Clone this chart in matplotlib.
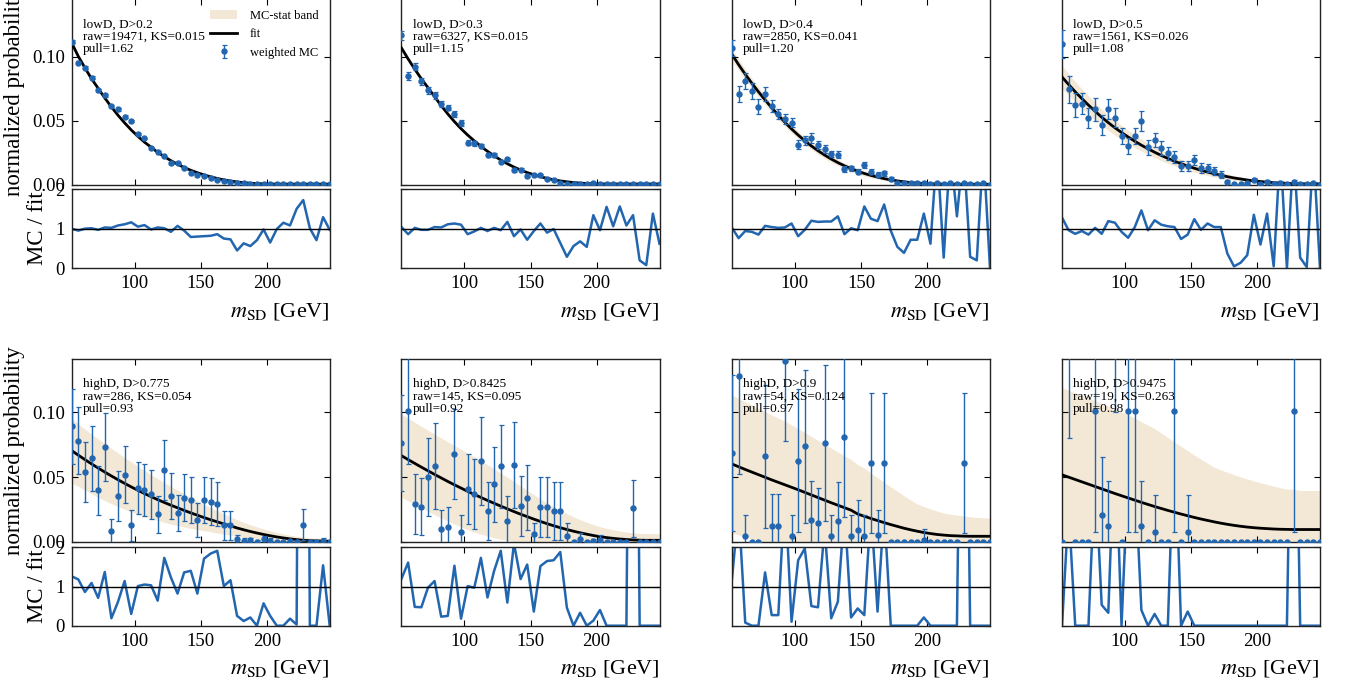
import numpy as np
import matplotlib
matplotlib.use("Agg")
import matplotlib.pyplot as plt
from matplotlib.ticker import MultipleLocator, FormatStrFormatter
from matplotlib.patches import Patch
from matplotlib.lines import Line2D

plt.rcParams['font.family'] = ['Liberation Serif', 'DejaVu Serif']
plt.rcParams['mathtext.fontset'] = 'stix'

# bin centres of the soft-drop mass [GeV]
msd = np.arange(52.5, 250, 5.0)

labels = ["lowD, D>0.2", "lowD, D>0.3", "lowD, D>0.4", "lowD, D>0.5",
          "highD, D>0.775", "highD, D>0.8425", "highD, D>0.9", "highD, D>0.9475"]
raw = [19471, 6327, 2850, 1561, 286, 145, 54, 19]
ks = [0.015, 0.015, 0.041, 0.026, 0.054, 0.095, 0.124, 0.263]
pull = [1.62, 1.15, 1.20, 1.08, 0.93, 0.92, 0.97, 0.98]

# weighted MC
mc1 = [0.112, 0.0956, 0.0917, 0.0839, 0.074, 0.070, 0.0618, 0.059, 0.0535, 0.050,
       0.0397, 0.0364, 0.0291, 0.026, 0.0223, 0.0171, 0.0169, 0.013, 0.0091, 0.008,
       0.0068, 0.0055, 0.0042, 0.0029, 0.0021, 0.0013, 0.0013, 0.001, 0.0008, 0.0007,
       0.0006, 0.0006, 0.0006, 0.0006, 0.0005, 0.0006, 0.0005, 0.0005, 0.0006, 0.0005]
mc2 = [0.117, 0.085, 0.0925, 0.081, 0.074, 0.070, 0.0636, 0.0605, 0.0553, 0.0483,
       0.0332, 0.0325, 0.0306, 0.0236, 0.0236, 0.0182, 0.020, 0.0117, 0.012, 0.0073,
       0.008, 0.0078, 0.0047, 0.0042, 0.0016, 0.001, 0.001, 0.001, 0.0008, 0.0013,
       0.0008, 0.0008, 0.0008, 0.0008, 0.0008, 0.0008, 0.0008, 0.0008, 0.0008, 0.0008]
mc3 = [0.107, 0.071, 0.0813, 0.0735, 0.0613, 0.071, 0.0618, 0.0553, 0.0514, 0.0488,
       0.0314, 0.035, 0.0371, 0.0314, 0.028, 0.0242, 0.0236, 0.0125, 0.013, 0.0104,
       0.0156, 0.0104, 0.008, 0.0091, 0.0047, 0.0018, 0.0016, 0.0016, 0.0016, 0.0018,
       0.0008, 0.0018, 0.0005, 0.0018, 0.0008, 0.0016, 0.0005, 0.0005, 0.0016, 0.0]
mc4 = [0.110, 0.0748, 0.0626, 0.0636, 0.0527, 0.0592, 0.047, 0.0592, 0.0527, 0.0384,
       0.0306, 0.0384, 0.0501, 0.0293, 0.035, 0.0288, 0.0247, 0.0216, 0.0145, 0.015,
       0.0195, 0.0132, 0.0132, 0.0106, 0.008, 0.0026, 0.0005, 0.0005, 0.0013, 0.0039,
       0.0008, 0.0023, 0.0005, 0.0018, 0.0005, 0.0026, 0.0005, 0.0005, 0.0016, 0.0]
mc5 = [0.0889, 0.078, 0.054, 0.0646, 0.0398, 0.0729, 0.0085, 0.0354, 0.0517, 0.0127,
       0.0413, 0.040, 0.0367, 0.0212, 0.0553, 0.0354, 0.0225, 0.0341, 0.0323, 0.0168,
       0.0323, 0.031, 0.0295, 0.0129, 0.0129, 0.0023, 0.001, 0.0013, 0.0003, 0.0026,
       0.001, 0.0, 0.0, 0.0005, 0.0003, 0.0132, 0.0, 0.0003, 0.0008, 0.0]
mc6 = [0.076, 0.101, 0.029, 0.0271, 0.050, 0.0587, 0.010, 0.0116, 0.0677, 0.0078,
       0.0406, 0.0372, 0.0625, 0.0238, 0.0444, 0.0581, 0.0165, 0.0592, 0.0276, 0.0341,
       0.0065, 0.0269, 0.0269, 0.0238, 0.0238, 0.0044, 0.0, 0.0026, 0.0, 0.0005,
       0.0013, 0.0, 0.0, 0.0, 0.0, 0.0258, 0.0, 0.0, 0.0, 0.0]
mc7 = [0.0685, 0.1276, 0.0044, 0.0, 0.0, 0.0659, 0.0121, 0.0121, 0.1395, 0.0044,
       0.0625, 0.0736, 0.0168, 0.0147, 0.0762, 0.0044, 0.016, 0.0811, 0.0044, 0.0096,
       0.0044, 0.0607, 0.0057, 0.0607, 0.0, 0.0, 0.0, 0.0, 0.0, 0.0013,
       0.0, 0.0, 0.0, 0.0, 0.0, 0.0607, 0.0, 0.0, 0.0, 0.0]
mc8 = [0.0, 0.158, 0.0, 0.0, 0.0, 0.101, 0.0204, 0.0121, 0.2, 0.0,
       0.101, 0.101, 0.0121, 0.0, 0.0078, 0.0, 0.0, 0.101, 0.0, 0.0078,
       0.0, 0.0, 0.0, 0.0, 0.0, 0.0, 0.0, 0.0, 0.0, 0.0,
       0.0, 0.0, 0.0, 0.0, 0.0, 0.101, 0.0, 0.0, 0.0, 0.0]

# MC stat errors
err1 = [0.0012, 0.0011, 0.0011, 0.0010, 0.0010, 0.0009, 0.0009, 0.0009, 0.0008, 0.0008,
        0.0007, 0.0007, 0.0006, 0.0006, 0.0006, 0.0005, 0.0005, 0.0004, 0.0004, 0.0004,
        0.0003, 0.0003, 0.0003, 0.0003, 0.0002, 0.0002, 0.0002, 0.0002, 0.0002, 0.0002,
        0.0001, 0.0001, 0.0001, 0.0001, 0.0001, 0.0001, 0.0001, 0.0001, 0.0001, 0.0001]
err2 = [0.0035, 0.0030, 0.0028, 0.0027, 0.0026, 0.0025, 0.0024, 0.0023, 0.0022, 0.0021,
        0.0019, 0.0018, 0.0017, 0.0016, 0.0015, 0.0014, 0.0013, 0.0012, 0.0011, 0.0010,
        0.0009, 0.0009, 0.0008, 0.0007, 0.0006, 0.0005, 0.0005, 0.0004, 0.0004, 0.0004,
        0.0003, 0.0003, 0.0003, 0.0003, 0.0003, 0.0003, 0.0003, 0.0003, 0.0003, 0.0003]
err3 = [0.006, 0.0065, 0.0065, 0.0065, 0.0057, 0.0052, 0.0047, 0.0039, 0.0039, 0.0036,
        0.0034, 0.0034, 0.0039, 0.0031, 0.0031, 0.0026, 0.0026, 0.0021, 0.0021, 0.0018,
        0.0021, 0.0018, 0.0018, 0.0018, 0.0013, 0.0008, 0.0008, 0.0008, 0.0008, 0.0008,
        0.0004, 0.0008, 0.0004, 0.0008, 0.0004, 0.0008, 0.0004, 0.0004, 0.0008, 0.0]
err4 = [0.011, 0.0104, 0.0091, 0.0083, 0.0078, 0.0091, 0.0078, 0.0078, 0.0073, 0.0065,
        0.0065, 0.0065, 0.0078, 0.0057, 0.0057, 0.0052, 0.0052, 0.0047, 0.0039, 0.0039,
        0.0039, 0.0036, 0.0034, 0.0031, 0.0029, 0.0016, 0.0004, 0.0004, 0.0008, 0.0018,
        0.0004, 0.0013, 0.0004, 0.0010, 0.0004, 0.0013, 0.0004, 0.0004, 0.0010, 0.0]
err5 = [0.029, 0.026, 0.023, 0.025, 0.019, 0.026, 0.009, 0.019, 0.022, 0.012,
        0.020, 0.020, 0.019, 0.014, 0.023, 0.018, 0.014, 0.018, 0.018, 0.013,
        0.018, 0.018, 0.017, 0.011, 0.011, 0.003, 0.002, 0.002, 0.001, 0.002,
        0.002, 0.0, 0.0, 0.001, 0.001, 0.012, 0.0, 0.001, 0.002, 0.0]
err6 = [0.037, 0.041, 0.023, 0.022, 0.030, 0.033, 0.015, 0.015, 0.035, 0.013,
        0.027, 0.027, 0.034, 0.022, 0.029, 0.032, 0.019, 0.033, 0.023, 0.025,
        0.008, 0.023, 0.023, 0.022, 0.022, 0.010, 0.0, 0.004, 0.0, 0.002,
        0.004, 0.0, 0.0, 0.0, 0.0, 0.022, 0.0, 0.0, 0.0, 0.0]
err7 = [0.060, 0.075, 0.016, 0.0, 0.0, 0.055, 0.025, 0.025, 0.062, 0.016,
        0.055, 0.059, 0.030, 0.027, 0.060, 0.016, 0.030, 0.062, 0.016, 0.023,
        0.016, 0.054, 0.019, 0.054, 0.0, 0.0, 0.0, 0.0, 0.0, 0.009,
        0.0, 0.0, 0.0, 0.0, 0.0, 0.054, 0.0, 0.0, 0.0, 0.0]
err8 = [0.0, 0.078, 0.0, 0.0, 0.0, 0.093, 0.045, 0.035, 0.100, 0.0,
        0.093, 0.093, 0.035, 0.0, 0.028, 0.0, 0.0, 0.093, 0.0, 0.028,
        0.0, 0.0, 0.0, 0.0, 0.0, 0.0, 0.0, 0.0, 0.0, 0.0,
        0.0, 0.0, 0.0, 0.0, 0.0, 0.093, 0.0, 0.0, 0.0, 0.0]

# fitted template
fit1 = [0.111, 0.1005, 0.0915, 0.0830, 0.0755, 0.0680, 0.0610, 0.0545, 0.0485, 0.0430,
        0.0380, 0.0335, 0.0295, 0.0255, 0.0222, 0.0190, 0.0162, 0.0137, 0.0115, 0.0096,
        0.0079, 0.0064, 0.0051, 0.0040, 0.0031, 0.0024, 0.0018, 0.0014, 0.0011, 0.0009,
        0.0008, 0.0007, 0.0007, 0.0007, 0.0007, 0.0007, 0.0007, 0.0007, 0.0007, 0.0007]
fit2 = [0.107, 0.0985, 0.0905, 0.0830, 0.0760, 0.0690, 0.0620, 0.0555, 0.0495, 0.0440,
        0.0390, 0.0345, 0.0302, 0.0263, 0.0228, 0.0195, 0.0166, 0.0140, 0.0117, 0.0097,
        0.0080, 0.0065, 0.0052, 0.0041, 0.0032, 0.0025, 0.0019, 0.0015, 0.0012, 0.0010,
        0.0009, 0.0008, 0.0008, 0.0008, 0.0008, 0.0008, 0.0008, 0.0008, 0.0008, 0.0008]
fit3 = [0.102, 0.0940, 0.0865, 0.0795, 0.0728, 0.0665, 0.0603, 0.0545, 0.0490, 0.0438,
        0.0390, 0.0346, 0.0305, 0.0268, 0.0234, 0.0203, 0.0175, 0.0150, 0.0128, 0.0108,
        0.0090, 0.0075, 0.0062, 0.0050, 0.0040, 0.0032, 0.0025, 0.0019, 0.0015, 0.0012,
        0.0010, 0.0008, 0.0007, 0.0006, 0.0006, 0.0006, 0.0006, 0.0006, 0.0006, 0.0006]
fit4 = [0.0844, 0.0785, 0.0728, 0.0675, 0.0624, 0.0576, 0.0530, 0.0487, 0.0447, 0.0410,
        0.0375, 0.0342, 0.0311, 0.0283, 0.0256, 0.0231, 0.0208, 0.0186, 0.0166, 0.0148,
        0.0131, 0.0115, 0.0101, 0.0088, 0.0076, 0.0065, 0.0055, 0.0047, 0.0039, 0.0032,
        0.0027, 0.0022, 0.0018, 0.0015, 0.0013, 0.0011, 0.0010, 0.0009, 0.0009, 0.0009]
fit5 = [0.0703, 0.0668, 0.0634, 0.0601, 0.0569, 0.0538, 0.0508, 0.0479, 0.0451, 0.0424,
        0.0398, 0.0373, 0.0349, 0.0326, 0.0304, 0.0283, 0.0263, 0.0243, 0.0224, 0.0206,
        0.0188, 0.0171, 0.0155, 0.0139, 0.0124, 0.0108, 0.0094, 0.0081, 0.0069, 0.0058,
        0.0048, 0.0039, 0.0031, 0.0024, 0.0018, 0.0013, 0.0010, 0.0008, 0.0007, 0.0006]
fit6 = [0.0664, 0.0634, 0.0605, 0.0576, 0.0548, 0.0520, 0.0493, 0.0466, 0.0440, 0.0415,
        0.0390, 0.0366, 0.0343, 0.0320, 0.0298, 0.0276, 0.0255, 0.0234, 0.0214, 0.0195,
        0.0176, 0.0158, 0.0141, 0.0125, 0.0110, 0.0096, 0.0083, 0.0071, 0.0060, 0.0050,
        0.0041, 0.0034, 0.0028, 0.0023, 0.0019, 0.0016, 0.0014, 0.0013, 0.0013, 0.0013]
fit7 = [0.0600, 0.0579, 0.0558, 0.0538, 0.0518, 0.0498, 0.0478, 0.0459, 0.0440, 0.0421,
        0.0402, 0.0382, 0.0362, 0.0342, 0.0322, 0.0302, 0.0283, 0.0264, 0.0245, 0.0215,
        0.0198, 0.0181, 0.0165, 0.0149, 0.0134, 0.0120, 0.0106, 0.0094, 0.0083, 0.0073,
        0.0065, 0.0058, 0.0053, 0.0049, 0.0047, 0.0045, 0.0044, 0.0044, 0.0044, 0.0044]
fit8 = [0.0517, 0.0499, 0.0481, 0.0463, 0.0445, 0.0427, 0.0409, 0.0391, 0.0373, 0.0356,
        0.0339, 0.0322, 0.0305, 0.0289, 0.0273, 0.0258, 0.0243, 0.0229, 0.0215, 0.0202,
        0.0189, 0.0177, 0.0166, 0.0155, 0.0145, 0.0136, 0.0128, 0.0121, 0.0115, 0.0110,
        0.0106, 0.0103, 0.0100, 0.0098, 0.0097, 0.0096, 0.0096, 0.0096, 0.0096, 0.0096]

# half width of the MC-stat band around the fit
band1 = [0.0010, 0.0009, 0.0009, 0.0008, 0.0008, 0.0007, 0.0007, 0.0006, 0.0006, 0.0006,
         0.0005, 0.0005, 0.0005, 0.0004, 0.0004, 0.0004, 0.0003, 0.0003, 0.0003, 0.0003,
         0.0002, 0.0002, 0.0002, 0.0002, 0.0002, 0.0002, 0.0002, 0.0002, 0.0002, 0.0002,
         0.0002, 0.0002, 0.0002, 0.0002, 0.0002, 0.0002, 0.0002, 0.0002, 0.0002, 0.0002]
band2 = [0.0018, 0.0017, 0.0017, 0.0016, 0.0016, 0.0015, 0.0015, 0.0014, 0.0014, 0.0013,
         0.0013, 0.0012, 0.0012, 0.0011, 0.0011, 0.0010, 0.0010, 0.0009, 0.0009, 0.0008,
         0.0008, 0.0007, 0.0007, 0.0006, 0.0006, 0.0005, 0.0005, 0.0004, 0.0004, 0.0004,
         0.0003, 0.0003, 0.0003, 0.0003, 0.0003, 0.0003, 0.0003, 0.0003, 0.0003, 0.0003]
band3 = [0.0045, 0.0043, 0.0041, 0.0039, 0.0037, 0.0036, 0.0034, 0.0033, 0.0032, 0.0031,
         0.0030, 0.0029, 0.0028, 0.0027, 0.0026, 0.0025, 0.0024, 0.0023, 0.0022, 0.0021,
         0.0020, 0.0019, 0.0017, 0.0016, 0.0014, 0.0013, 0.0011, 0.0010, 0.0009, 0.0008,
         0.0007, 0.0006, 0.0006, 0.0005, 0.0005, 0.0005, 0.0005, 0.0005, 0.0005, 0.0005]
band4 = [0.0090, 0.0085, 0.0080, 0.0076, 0.0072, 0.0068, 0.0064, 0.0061, 0.0058, 0.0055,
         0.0052, 0.0050, 0.0047, 0.0045, 0.0043, 0.0041, 0.0039, 0.0037, 0.0035, 0.0033,
         0.0031, 0.0029, 0.0027, 0.0025, 0.0023, 0.0021, 0.0019, 0.0017, 0.0015, 0.0013,
         0.0012, 0.0011, 0.0010, 0.0009, 0.0009, 0.0008, 0.0008, 0.0008, 0.0008, 0.0008]
band5 = [0.025, 0.024, 0.0235, 0.023, 0.0225, 0.022, 0.0213, 0.0206, 0.0199, 0.0192,
         0.0185, 0.0177, 0.0169, 0.0161, 0.0153, 0.0145, 0.0137, 0.0128, 0.0119, 0.0110,
         0.0101, 0.0093, 0.0085, 0.0078, 0.0071, 0.0064, 0.0058, 0.0052, 0.0047, 0.0042,
         0.0038, 0.0034, 0.0031, 0.0028, 0.0026, 0.0024, 0.0022, 0.0021, 0.0020, 0.0020]
band6 = [0.032, 0.0318, 0.0316, 0.0314, 0.0312, 0.031, 0.0308, 0.0305, 0.0302, 0.0299,
         0.0295, 0.029, 0.0283, 0.0275, 0.0265, 0.0255, 0.0243, 0.0230, 0.0216, 0.0202,
         0.0188, 0.0174, 0.0160, 0.0147, 0.0134, 0.0122, 0.0111, 0.0101, 0.0092, 0.0084,
         0.0077, 0.0071, 0.0066, 0.0062, 0.0058, 0.0055, 0.0053, 0.0052, 0.0051, 0.0050]
band7 = [0.053, 0.0525, 0.052, 0.0515, 0.051, 0.0505, 0.050, 0.0495, 0.049, 0.048,
         0.047, 0.046, 0.045, 0.044, 0.043, 0.042, 0.041, 0.040, 0.039, 0.038,
         0.037, 0.035, 0.033, 0.031, 0.029, 0.027, 0.025, 0.023, 0.021, 0.020,
         0.019, 0.018, 0.017, 0.0165, 0.016, 0.0155, 0.015, 0.0145, 0.0142, 0.014]
band8 = [0.067, 0.0668, 0.0666, 0.0664, 0.0662, 0.066, 0.0657, 0.0654, 0.065, 0.0645,
         0.064, 0.063, 0.062, 0.061, 0.060, 0.058, 0.056, 0.054, 0.052, 0.050,
         0.048, 0.046, 0.044, 0.042, 0.041, 0.040, 0.039, 0.038, 0.037, 0.036,
         0.035, 0.034, 0.033, 0.032, 0.031, 0.031, 0.030, 0.030, 0.030, 0.030]

# MC / fit
ratio1 = [1.0, 0.95, 1.0, 1.01, 0.97, 1.03, 1.02, 1.08, 1.11, 1.16,
          1.05, 1.09, 0.98, 1.03, 1.01, 0.92, 1.07, 0.95, 0.79, 0.80,
          0.81, 0.82, 0.86, 0.75, 0.73, 0.45, 0.63, 0.56, 0.71, 0.98,
          0.65, 0.99, 1.15, 1.08, 1.5, 1.72, 1.01, 0.71, 1.29, 0.97]
ratio2 = [1.04, 0.86, 1.02, 0.97, 0.97, 1.04, 1.03, 1.11, 1.13, 1.10,
          0.86, 0.93, 1.02, 0.94, 1.02, 0.96, 1.17, 0.81, 0.98, 0.72,
          0.94, 1.13, 0.90, 0.99, 0.64, 0.29, 0.56, 0.68, 0.54, 1.34,
          0.96, 1.55, 1.06, 1.56, 1.08, 1.34, 0.20, 0.08, 1.38, 0.62]
ratio3 = [1.02, 0.76, 0.94, 0.92, 0.85, 1.07, 1.04, 1.02, 1.03, 1.13,
          0.81, 0.97, 1.20, 1.17, 1.18, 1.18, 1.31, 0.86, 1.01, 0.96,
          1.56, 1.25, 1.19, 1.61, 0.95, 0.54, 0.39, 0.72, 0.72, 1.38,
          0.62, 3.0, 0.27, 3.0, 1.31, 3.0, 0.29, 0.20, 3.0, 0.0]
ratio4 = [1.28, 0.96, 0.87, 0.94, 0.85, 1.02, 0.87, 1.19, 1.15, 0.92,
          0.77, 1.04, 1.46, 0.96, 1.21, 1.10, 1.06, 1.04, 0.74, 0.85,
          1.24, 0.97, 1.13, 1.04, 1.04, 0.37, 0.05, 0.14, 0.33, 1.35,
          0.60, 1.38, 0.05, 3.0, 0.0, 3.0, 0.27, 0.03, 3.0, 0.0]
ratio5 = [1.26, 1.18, 0.86, 1.09, 0.71, 1.37, 0.19, 0.61, 1.14, 0.30,
          1.01, 1.05, 1.03, 0.64, 1.73, 1.23, 0.82, 1.36, 1.40, 0.82,
          1.71, 1.84, 1.91, 1.01, 1.16, 0.25, 0.12, 0.21, 0.0, 0.57,
          0.25, 0.0, 0.0, 0.18, 0.03, 30.0, 0.0, 0.0, 1.54, 0.0]
ratio6 = [1.20, 1.61, 0.48, 0.47, 0.97, 1.14, 0.23, 0.25, 1.53, 0.18,
          1.01, 0.97, 1.73, 0.72, 1.40, 1.91, 0.59, 2.1, 1.19, 1.56,
          0.36, 1.52, 1.65, 1.67, 1.88, 0.46, 0.0, 0.33, 0.0, 0.13,
          0.40, 0.0, 0.0, 0.0, 0.0, 20.0, 0.0, 0.0, 0.0, 0.0]
ratio7 = [1.20, 3.0, 0.08, 0.0, 0.0, 1.36, 0.27, 0.27, 3.5, 0.10,
          1.67, 1.97, 0.50, 0.47, 2.5, 0.19, 0.61, 3.0, 0.21, 0.44,
          0.27, 3.0, 0.36, 3.0, 0.0, 0.0, 0.0, 0.0, 0.0, 0.21,
          0.0, 0.0, 0.0, 0.0, 0.0, 13.0, 0.0, 0.0, 0.0, 0.0]
ratio8 = [0.0, 3.0, 0.0, 0.0, 0.0, 4.0, 0.53, 0.33, 5.0, 0.0,
          4.0, 4.0, 0.40, 0.0, 0.30, 0.0, 0.0, 5.0, 0.0, 0.36,
          0.0, 0.0, 0.0, 0.0, 0.0, 0.0, 0.0, 0.0, 0.0, 0.0,
          0.0, 0.0, 0.0, 0.0, 0.0, 10.0, 0.0, 0.0, 0.0, 0.0]

mcs = [mc1, mc2, mc3, mc4, mc5, mc6, mc7, mc8]
errs = [err1, err2, err3, err4, err5, err6, err7, err8]
fits = [fit1, fit2, fit3, fit4, fit5, fit6, fit7, fit8]
bands = [band1, band2, band3, band4, band5, band6, band7, band8]
ratios = [ratio1, ratio2, ratio3, ratio4, ratio5, ratio6, ratio7, ratio8]

blue = '#2366b0'
band_color = '#f3e8d5'

W, H = 1351, 683
fig = plt.figure(figsize=(W / 100, H / 100), dpi=100)

col_left = [71.7, 401.5, 732, 1062]
ax_w = 258
# (main top, main bottom, ratio top, ratio bottom) in pixels, and y max
rows = [(-1, 185, 189, 268.3, 0.1453), (359, 542, 547.3, 625.7, 0.1408)]


def px_axes(x0, y0, y1):
    return fig.add_axes([x0 / W, 1 - y1 / H, ax_w / W, (y1 - y0) / H])


def style(ax):
    ax.tick_params(direction='in', top=True, right=True, length=4, width=0.8,
                   labelsize=13.5, pad=5)
    for s in ax.spines.values():
        s.set_linewidth(1.0)
        s.set_color('#222222')


for i in range(8):
    r, c = divmod(i, 4)
    mt, mb, rt, rb, ymax = rows[r]
    ax = px_axes(col_left[c], mt, mb)
    axr = px_axes(col_left[c], rt, rb)

    mc = np.array(mcs[i])
    err = np.array(errs[i])
    fit = np.array(fits[i])
    band = np.array(bands[i])

    ax.fill_between(msd, fit - band, fit + band, color=band_color, lw=0, zorder=1)
    ax.plot(msd, fit, color='black', lw=2.0, zorder=3)
    ax.errorbar(msd, mc, yerr=err, fmt='o', color=blue, ms=3.6, ecolor=blue,
                elinewidth=1.0, capsize=1.8, capthick=0.9, zorder=4)
    ax.set_xlim(52.5, 247.5)
    ax.set_ylim(0, ymax)
    ax.xaxis.set_major_locator(MultipleLocator(50))
    ax.yaxis.set_major_locator(MultipleLocator(0.05))
    ax.yaxis.set_major_formatter(FormatStrFormatter('%.2f'))
    ax.tick_params(labelbottom=False)
    style(ax)

    ax.text(0.043, 0.895, "%s\nraw=%d, KS=%.3f\npull=%.2f" % (labels[i], raw[i], ks[i], pull[i]),
            transform=ax.transAxes, ha='left', va='top', fontsize=9.5, linespacing=1.05, zorder=5)

    axr.plot(msd, ratios[i], color=blue, lw=1.8)
    axr.axhline(1.0, color='black', lw=1.0)
    axr.set_xlim(52.5, 247.5)
    axr.set_ylim(0, 2)
    axr.xaxis.set_major_locator(MultipleLocator(50))
    axr.set_yticks([0, 1, 2])
    style(axr)
    axr.set_xlabel(r"$m_{\rm SD}$ [GeV]", fontsize=16, loc='right', labelpad=6)

    if c == 0:
        ax.set_ylabel("normalized probability", fontsize=16.5, labelpad=5)
        axr.set_ylabel("MC / fit", fontsize=16.5, labelpad=5)
    else:
        ax.tick_params(labelleft=False)
        axr.tick_params(labelleft=False)

    if i == 0:
        handles = [Patch(facecolor=band_color, edgecolor='none'),
                   Line2D([], [], color='black', lw=2.0),
                   ax.containers[0]]
        ax.legend(handles, ["MC-stat band", "fit", "weighted MC"], loc='upper right',
                  frameon=False, fontsize=9, handlelength=2.2, handletextpad=1.0,
                  labelspacing=0.5, borderaxespad=0.5)

fig.savefig("out.png", dpi=100)
